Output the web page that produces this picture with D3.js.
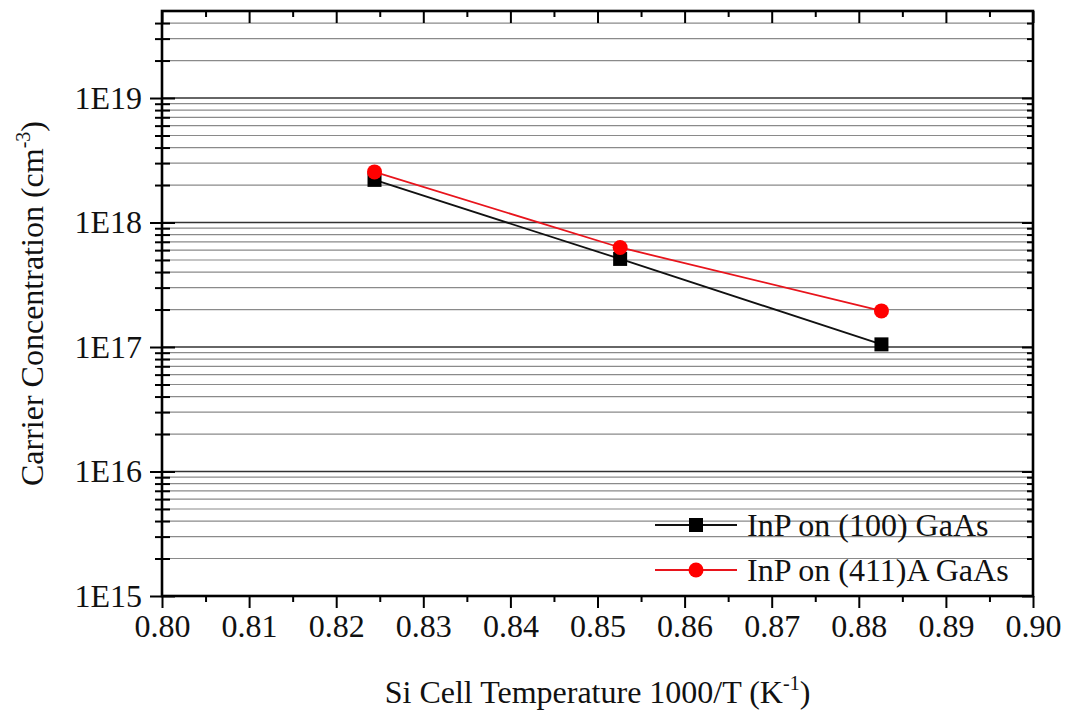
<!DOCTYPE html>
<html>
<head>
<meta charset="utf-8">
<script src="https://cdn.jsdelivr.net/npm/d3@7"></script>
<style>
  body { margin: 0; background: #fff; }
  svg text { font-family: "Liberation Serif", Tinos, "Times New Roman", Times, "DejaVu Serif", "Noto Serif", serif !important; fill: #111; }
</style>
</head>
<body>
<div id="chart"></div>
<script>
// data
let tempX = [0.8244, 0.8526, 0.8826];
let conc100 = [2.2e18, 5.1e17, 1.05e17];
let conc411 = [2.55e18, 6.3e17, 1.95e17];
let seriesNames = ["InP on (100) GaAs", "InP on (411)A GaAs"];
let xTicks = [0.80, 0.81, 0.82, 0.83, 0.84, 0.85, 0.86, 0.87, 0.88, 0.89, 0.90];
let yTickLabels = ["1E15", "1E16", "1E17", "1E18", "1E19"];

let margin = {top: 11, right: 36, bottom: 119, left: 162};
let width = 1069 - margin.left - margin.right;
let height = 715 - margin.top - margin.bottom;

let svg = d3.select("#chart").append("svg")
    .attr("width", 1069)
    .attr("height", 715)
    .append("g")
    .attr("transform", `translate(${margin.left}, ${margin.top})`);

let x = d3.scaleLinear().domain([0.80, 0.90]).range([0, width]);
let y = d3.scaleLog().domain([1e15, 5e19]).range([height, 0]);

// major / minor ticks of the log axis
let yAll = y.ticks();
let yMajor = yAll.filter(d => Math.abs(Math.log10(d) - Math.round(Math.log10(d))) < 1e-9);
let yMinor = yAll.filter(d => !yMajor.includes(d) && d < 5e19);
let xMinor = xTicks.slice(0, -1).map(d => d + 0.005);

// gridlines
svg.append("g").selectAll("line.minor").data(yMinor).enter().append("line")
    .attr("x1", 0).attr("x2", width)
    .attr("y1", d => y(d)).attr("y2", d => y(d))
    .attr("stroke", "#8a8a8a").attr("stroke-width", 1.2);
svg.append("g").selectAll("line.major").data(yMajor).enter().append("line")
    .attr("x1", 0).attr("x2", width)
    .attr("y1", d => y(d)).attr("y2", d => y(d))
    .attr("stroke", "#333").attr("stroke-width", 1.6);

// series
let s100 = tempX.map((d, i) => [d, conc100[i]]);
let s411 = tempX.map((d, i) => [d, conc411[i]]);
let line = d3.line().x(d => x(d[0])).y(d => y(d[1]));

svg.append("path").datum(s100).attr("d", line)
    .attr("fill", "none").attr("stroke", "#111").attr("stroke-width", 1.8);
svg.selectAll("rect.pt").data(s100).enter().append("rect")
    .attr("x", d => x(d[0]) - 7).attr("y", d => y(d[1]) - 7)
    .attr("width", 14).attr("height", 14).attr("fill", "#000");

svg.append("path").datum(s411).attr("d", line)
    .attr("fill", "none").attr("stroke", "#e8141c").attr("stroke-width", 1.8);
svg.selectAll("circle.pt").data(s411).enter().append("circle")
    .attr("cx", d => x(d[0])).attr("cy", d => y(d[1]))
    .attr("r", 7.5).attr("fill", "#f00");

// axes
function styleAxis(g) {
    g.attr("font-family", null);
    g.select(".domain").remove();
    g.selectAll(".tick line").attr("stroke", "#000").attr("stroke-width", 2);
    g.selectAll(".tick text").attr("font-size", 32).attr("fill", "#111");
}

// left
svg.append("g").call(d3.axisLeft(y).tickValues(yMajor).tickSize(12).tickPadding(8)
    .tickFormat((d, i) => yTickLabels[i])).call(styleAxis);
svg.append("g").call(d3.axisLeft(y).tickValues(yMinor).tickSize(7).tickFormat("")).call(styleAxis);
svg.append("g").call(d3.axisRight(y).tickValues(yMajor).tickSize(13).tickFormat("")).call(styleAxis);
svg.append("g").call(d3.axisRight(y).tickValues(yMinor).tickSize(8).tickFormat("")).call(styleAxis);
// right (inward)
svg.append("g").attr("transform", `translate(${width},0)`)
    .call(d3.axisLeft(y).tickValues(yMajor).tickSize(11).tickFormat("")).call(styleAxis);
svg.append("g").attr("transform", `translate(${width},0)`)
    .call(d3.axisLeft(y).tickValues(yMinor).tickSize(6).tickFormat("")).call(styleAxis);
// bottom
svg.append("g").attr("transform", `translate(0,${height})`)
    .call(d3.axisBottom(x).tickValues(xTicks).tickSize(12).tickPadding(6)
        .tickFormat(d3.format(".2f"))).call(styleAxis);
svg.append("g").attr("transform", `translate(0,${height})`)
    .call(d3.axisBottom(x).tickValues(xMinor).tickSize(6).tickFormat("")).call(styleAxis);
// top (inward)
svg.append("g").call(d3.axisBottom(x).tickValues(xTicks).tickSize(12).tickFormat("")).call(styleAxis);
svg.append("g").call(d3.axisBottom(x).tickValues(xMinor).tickSize(6).tickFormat("")).call(styleAxis);

// frame
svg.append("rect").attr("width", width).attr("height", height)
    .attr("fill", "none").attr("stroke", "#000").attr("stroke-width", 2.6);

// axis titles
let xt = svg.append("text")
    .attr("x", width / 2).attr("y", 692)
    .attr("text-anchor", "middle").attr("font-size", 32);
xt.append("tspan").text("Si Cell Temperature 1000/T (K");
xt.append("tspan").attr("font-size", 20).attr("dy", -13).text("-1");
xt.append("tspan").attr("dy", 13).text(")");

let yt = svg.append("text")
    .attr("transform", `translate(${43 - margin.left},${height / 2}) rotate(-90)`)
    .attr("text-anchor", "middle").attr("font-size", 32);
yt.append("tspan").text("Carrier Concentration (cm");
yt.append("tspan").attr("font-size", 20).attr("dy", -13).text("-3");
yt.append("tspan").attr("dy", 13).text(")");

// legend
let legend = svg.append("g").attr("transform", `translate(${655 - margin.left},${525 - margin.top})`);
let legendColors = ["#111", "#e8141c"];
seriesNames.forEach((name, i) => {
    let row = legend.append("g").attr("transform", `translate(0,${i * 45})`);
    row.append("line").attr("x1", 0).attr("x2", 82)
        .attr("stroke", legendColors[i]).attr("stroke-width", 1.8);
    if (i === 0) {
        row.append("rect").attr("x", 34).attr("y", -7).attr("width", 14).attr("height", 14).attr("fill", "#000");
    } else {
        row.append("circle").attr("cx", 41).attr("r", 7.5).attr("fill", "#f00");
    }
    row.append("text").attr("x", 92).attr("y", 11).attr("font-size", 32).text(name);
});
</script>
</body>
</html>
